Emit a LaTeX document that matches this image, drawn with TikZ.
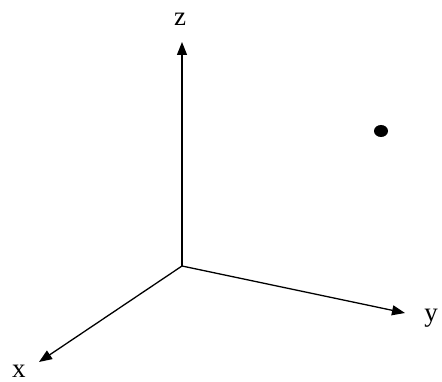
\documentclass[tikz,border=0pt]{standalone}
\usepackage{fontspec}
\setmainfont{Liberation Serif}
\usetikzlibrary{arrows.meta}
\begin{document}
\begin{tikzpicture}[x=1pt,y=-1pt,
  axis/.style={line width=1.3pt,-{Triangle[length=13pt,width=10pt]}},
  lbl/.style={inner sep=0pt,font=\fontsize{27}{27}\selectfont}]
\useasboundingbox (0,0) rectangle (442,382);
\coordinate (o) at (182,266);
\coordinate (zt) at (182,42);
\coordinate (yt) at (405,313);
\coordinate (xt) at (39,362);
\draw[axis] (o) -- (zt);
\draw[axis] (o) -- (yt);
\draw[axis] (o) -- (xt);
\node[lbl] (z) at (180,19) {z};
\node[lbl] (y) at (431,318) {y};
\node[lbl] (x) at (19,371) {x};
\fill (381,131) ellipse (7 and 6);
\end{tikzpicture}
\end{document}
